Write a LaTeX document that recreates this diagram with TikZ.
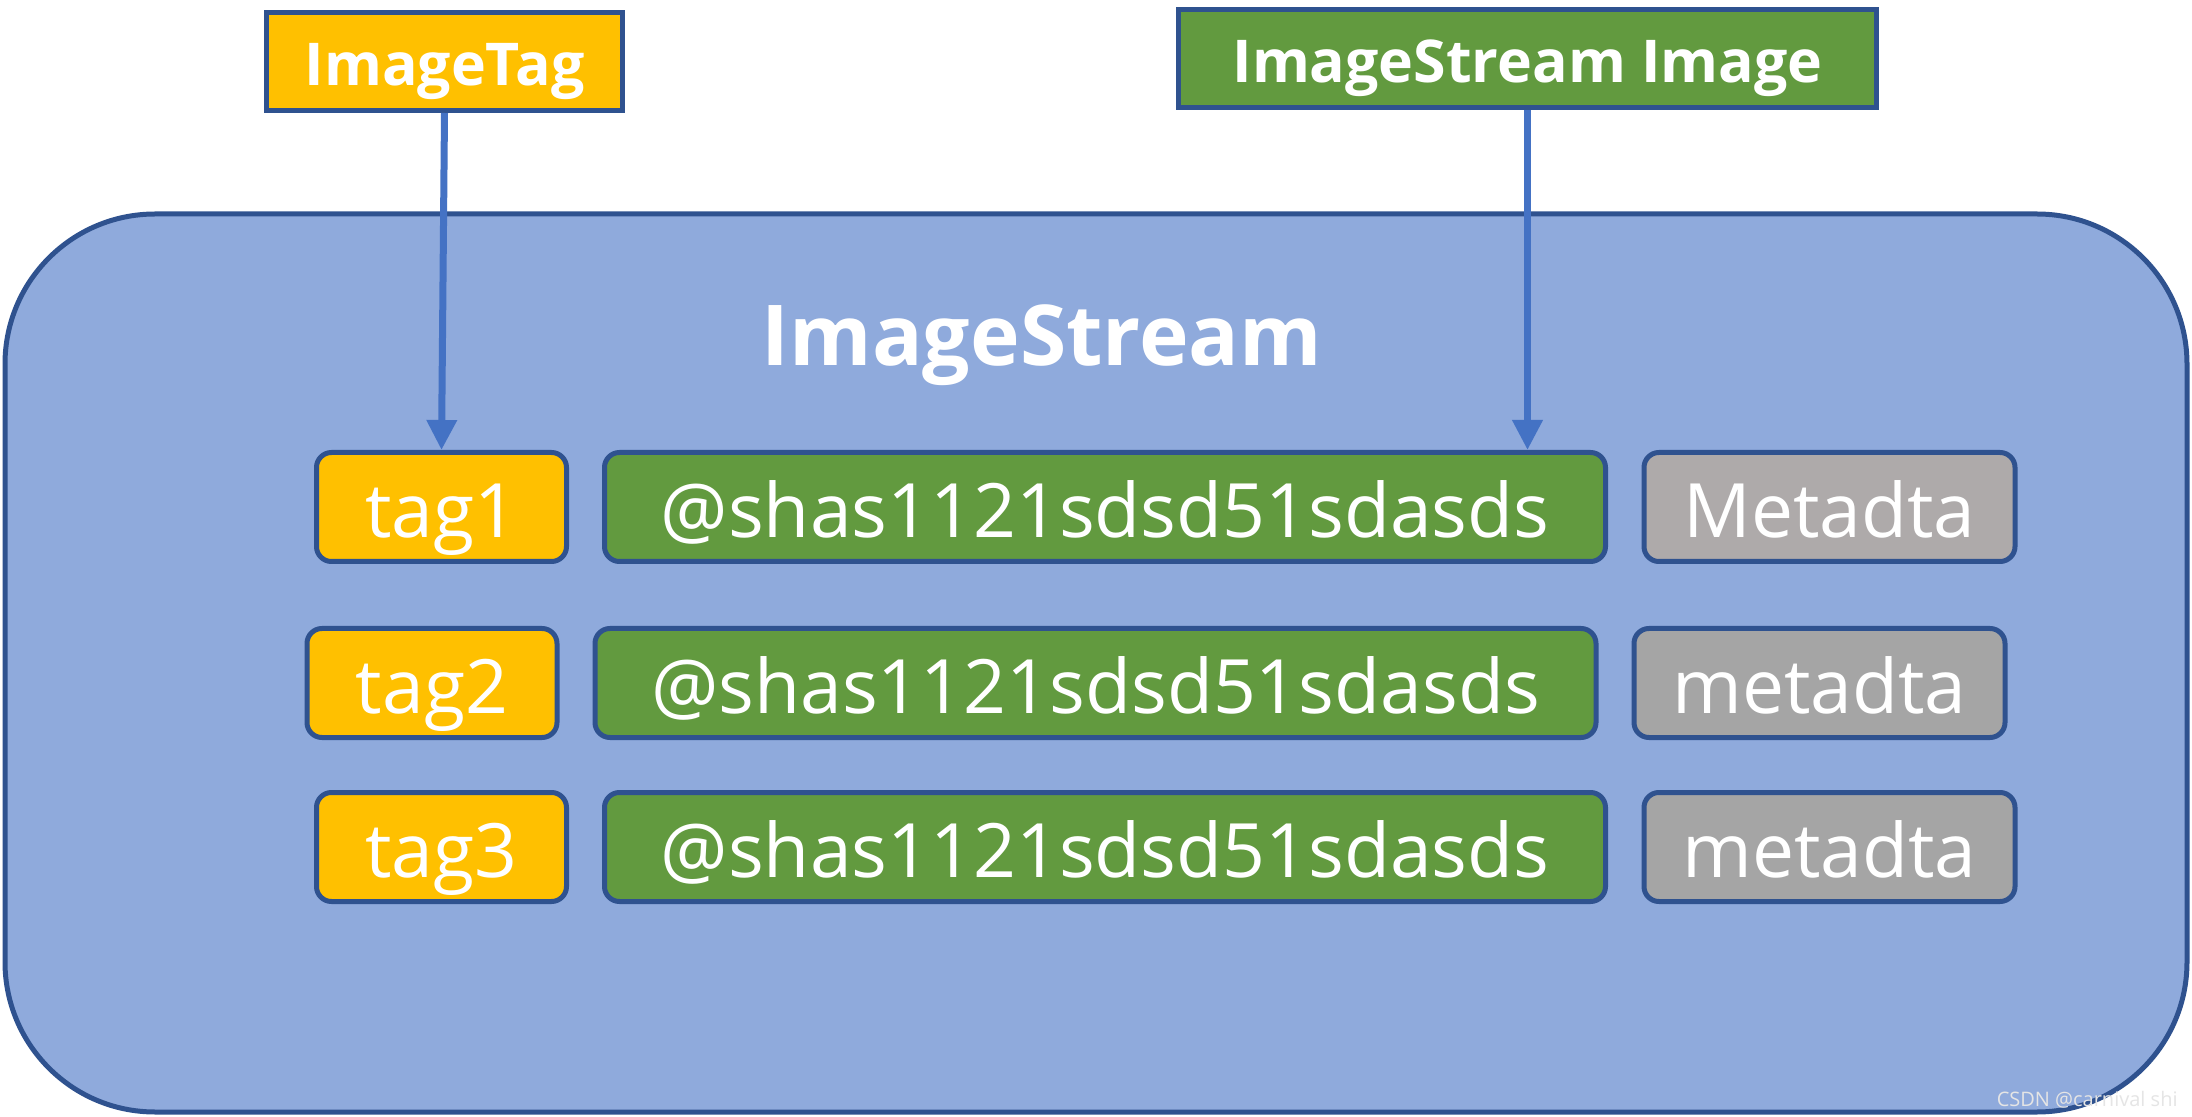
\documentclass[tikz,border=0pt]{standalone}
\usepackage{fontspec}
\setmainfont{Open Sans}
\usetikzlibrary{arrows.meta}
\definecolor{boxborder}{HTML}{2F528F}
\definecolor{bigfill}{HTML}{8FAADC}
\definecolor{tagfill}{HTML}{FFC000}
\definecolor{shafill}{HTML}{629A3F}
\definecolor{metafillA}{HTML}{AEAAAA}
\definecolor{metafillB}{HTML}{A5A5A5}
\definecolor{arrowblue}{HTML}{4472C4}
\begin{document}
\begin{tikzpicture}[x=0.5pt,y=-0.5pt,
  rowbox/.style={draw=boxborder, line width=2.5pt, rounded corners=7.5pt, inner sep=0pt,
    text=white, text height=30.75pt, text depth=0pt, minimum height=54.5pt,
    font=\fontsize{37.5}{40}\selectfont},
  tagbox/.style={rowbox, fill=tagfill, minimum width=125pt},
  shabox/.style={rowbox, fill=shafill, minimum width=500.5pt},
  metabox/.style={rowbox, fill=metafillB, minimum width=185.5pt},
  headbox/.style={draw=boxborder, line width=2.5pt, inner sep=0pt, text=white,
    text height=24.5pt, text depth=0pt, minimum height=49pt,
    font=\fontsize{29.5}{32}\bfseries\selectfont},
  connector/.style={draw=arrowblue, line width=3.5pt, -{Triangle[length=15pt,width=14.5pt]}}
]
\useasboundingbox (0,0) rectangle (2192,1117);
\fill[white] (0,0) rectangle (2192,1117);
% container
\draw[fill=bigfill, draw=boxborder, line width=2.5pt, rounded corners=75pt] (5,214) rectangle (2187,1112);
\node[anchor=base, text=white, font=\fontsize{42}{46}\bfseries\selectfont] (title) at (1042,366) {ImageStream};
% headers
\node[headbox, fill=tagfill, minimum width=178pt] (imagetag) at (444.5,61.5) {ImageTag};
\node[headbox, fill=shafill, minimum width=349pt] (isimage) at (1527.5,58.5) {ImageStream Image};
% row 1
\node[tagbox] (tag1) at (441.5,507) {tag1};
\node[shabox] (sha1) at (1105,507) {@shas1121sdsd51sdasds};
\node[metabox, fill=metafillA] (meta1) at (1829.5,507) {Metadta};
% row 2
\node[tagbox] (tag2) at (432,683) {tag2};
\node[shabox] (sha2) at (1095.5,683) {@shas1121sdsd51sdasds};
\node[metabox] (meta2) at (1819.5,683) {metadta};
% row 3
\node[tagbox] (tag3) at (441.5,847) {tag3};
\node[shabox] (sha3) at (1105,847) {@shas1121sdsd51sdasds};
\node[metabox] (meta3) at (1829.5,847) {metadta};
% connectors
\draw[connector] (imagetag.south) -- (tag1.north);
\draw[connector] (isimage.south) -- (isimage.south |- sha1.north);
% watermark
\node[anchor=base east, text=white!80!gray, font=\fontsize{10}{12}\selectfont, inner sep=0pt] (mark) at (2178,1106) {CSDN @carnival shi};
\end{tikzpicture}
\end{document}
